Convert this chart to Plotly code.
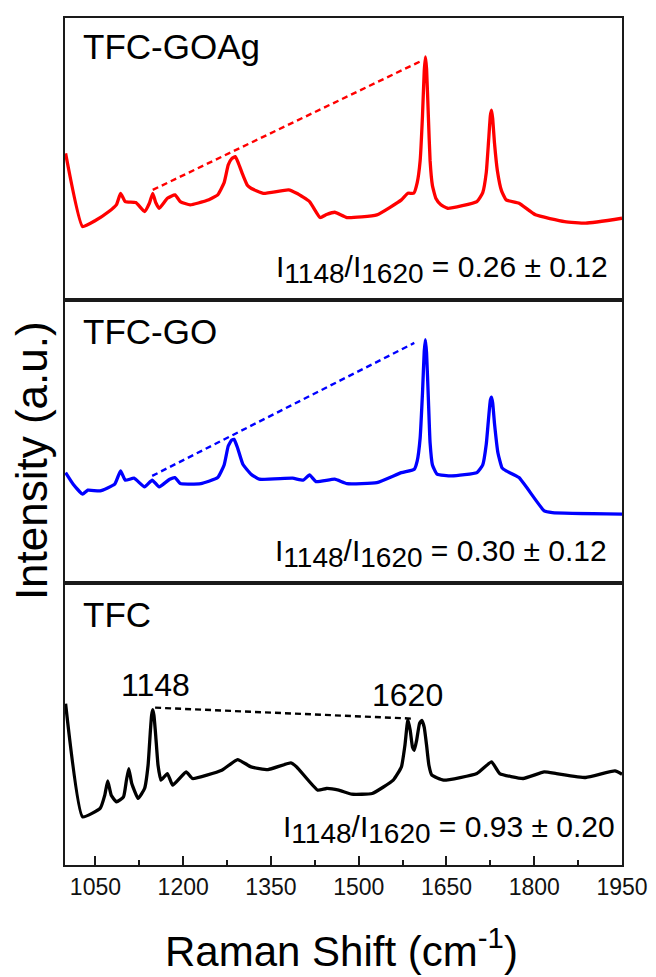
import plotly.graph_objects as go
from plotly.subplots import make_subplots

# ---------------- data ----------------
tick_vals = [1050, 1200, 1350, 1500, 1650, 1800, 1950]
tick_text = ["1050", "1200", "1350", "1500", "1650", "1800", "1950"]

goag_x = [999, 1028, 1050, 1073, 1086, 1093, 1101, 1119, 1134, 1142, 1148, 1153, 1159, 1173,
          1186, 1195, 1212, 1240, 1259, 1270, 1277, 1283, 1289, 1294, 1302, 1310, 1316, 1337,
          1380, 1394, 1416, 1434, 1445, 1459, 1480, 1531, 1573, 1584, 1594, 1600, 1605, 1609,
          1612, 1614, 1616, 1619, 1622, 1626, 1632, 1640, 1652, 1702, 1712, 1718, 1722, 1725,
          1727, 1729, 1732, 1737, 1744, 1752, 1774, 1802, 1852, 1888, 1950]
goag_y = [147.3, 74, 80, 89, 96, 107.3, 99, 98, 89, 97, 107.3, 98, 92.3, 102.3,
          105.7, 99, 95.7, 100, 105.7, 118, 135.7, 142, 144, 138, 125.7, 115, 112.3, 107.3,
          110.7, 107.3, 99, 83, 86, 88.3, 83, 85.7, 100.7, 107.3, 107.3, 118, 140, 185,
          230, 244, 232, 185, 140, 115, 102, 96, 92.3, 99, 108, 128, 160, 185,
          190.7, 182, 158, 130, 110, 100.7, 97.3, 85.7, 79, 77.3, 82.3]

go_x = [999, 1012, 1028, 1037, 1058, 1083, 1093, 1101, 1116, 1134, 1147, 1159, 1177,
        1186, 1195, 1230, 1259, 1270, 1277, 1283, 1287, 1293, 1302, 1316, 1330, 1387, 1405,
        1416, 1427, 1459, 1480, 1531, 1573, 1595, 1600, 1605, 1609, 1612, 1614, 1616, 1619,
        1622, 1626, 1634, 1659, 1702, 1712, 1718, 1722, 1725, 1727, 1729, 1732, 1738, 1745,
        1752, 1774, 1817, 1831, 1950]
go_y = [110.3, 98.7, 88.7, 92.7, 92, 98.7, 112, 102.7, 104.7, 96, 102.7, 96, 103.7,
        105.3, 99.3, 99.3, 105.3, 118, 137, 143, 143.7, 135, 118.7, 108.7, 103.7, 104.7, 102.7,
        108, 101.3, 103.7, 99.3, 100.3, 110.3, 113.7, 122, 145, 190, 232, 243.7, 230, 185,
        140, 118, 108.7, 107, 110.3, 118, 138.7, 165, 183, 186, 180, 160, 130, 115,
        112, 105.3, 72, 70.3, 68.7]

tfc_x = [999, 1028, 1058, 1066, 1071, 1077, 1086, 1098, 1103, 1107, 1112, 1123, 1134,
         1140, 1144, 1146, 1148, 1150, 1153, 1157, 1162, 1173, 1182, 1205, 1216, 1266,
         1293, 1316, 1345, 1384, 1394, 1430, 1445, 1466, 1488, 1523, 1559, 1573, 1579,
         1584, 1588, 1592, 1595, 1599, 1604, 1608, 1612, 1616, 1620, 1625, 1645, 1702,
         1727, 1741, 1781, 1817, 1838, 1888, 1938, 1950]
tfc_y = [161.7, 48.3, 56.7, 70, 84.3, 70, 63.3, 68.3, 85, 96.7, 82, 66.7, 76.7,
         100, 135, 150, 155.7, 150, 130, 100, 85, 91.7, 80, 93.3, 86.7, 95,
         105.7, 98.3, 95.7, 102.3, 98.3, 75, 76.7, 75, 71, 71.7, 85, 98.3, 120,
         145.7, 135, 118, 115, 125, 142, 145, 138, 120, 100, 90, 85, 91.7,
         103.3, 91.7, 86.7, 93.3, 91.7, 87.7, 94.3, 91]

# dashed guide lines (peak 1148 -> peak 1620)
goag_guide_x = [1148, 1606]
goag_guide_y = [110.7, 239.7]
go_guide_x = [1147, 1595]
go_guide_y = [107, 240.3]
tfc_guide_x = [1152, 1592]
tfc_guide_y = [157.7, 146.7]

panel_names = ["TFC-GOAg", "TFC-GO", "TFC"]
ratio_texts = ["0.26 ± 0.12", "0.30 ± 0.12", "0.93 ± 0.20"]
colors = ["#ff0000", "#0000ff", "#000000"]
peak_labels = ["1148", "1620"]
peak_label_x = [1152, 1584]
peak_label_y = [180, 170]

# ---------------- figure ----------------
FONT = "Liberation Sans, Arial, sans-serif"
fig = make_subplots(rows=3, cols=1, shared_xaxes=True, vertical_spacing=0)

series = [(goag_x, goag_y, goag_guide_x, goag_guide_y),
          (go_x, go_y, go_guide_x, go_guide_y),
          (tfc_x, tfc_y, tfc_guide_x, tfc_guide_y)]

for i, (sx, sy, gx, gy) in enumerate(series):
    row = i + 1
    fig.add_trace(go.Scatter(x=sx, y=sy, mode="lines",
                             line=dict(color=colors[i], width=3.3, shape="spline",
                                       smoothing=0.4),
                             showlegend=False, hoverinfo="skip"), row=row, col=1)
    fig.add_trace(go.Scatter(x=gx, y=gy, mode="lines",
                             line=dict(color=colors[i], width=2.4, dash="6px,4px"),
                             showlegend=False, hoverinfo="skip"), row=row, col=1)

axis_common = dict(showline=True, linecolor="#1a1a1a", linewidth=2, mirror=True,
                   showgrid=False, zeroline=False)

for row in (1, 2, 3):
    fig.update_yaxes(range=[0, 283], showticklabels=False, ticks="", **axis_common,
                     row=row, col=1)
    if row < 3:
        fig.update_xaxes(range=[998, 1950], showticklabels=False, ticks="",
                         **axis_common, row=row, col=1)

fig.update_xaxes(range=[998, 1950], tickvals=tick_vals, ticktext=tick_text,
                 ticks="inside", ticklen=9, tickwidth=1.5, tickcolor="#1a1a1a",
                 tickfont=dict(family=FONT, size=23, color="#111"),
                 minor=dict(ticks="inside", ticklen=5, tickwidth=1.5, tickcolor="#1a1a1a",
                            dtick=75, tick0=1050),
                 **axis_common, row=3, col=1)

yrefs = ["y domain", "y2 domain", "y3 domain"]
label_y = [0.899, 0.89, 0.887]
ratio_y = [0.11, 0.102, 0.124]
ratio_x = [0.978, 0.977, 0.991]
for i in range(3):
    fig.add_annotation(text=panel_names[i], xref="paper", yref=yrefs[i],
                       x=0.028, y=label_y[i], xanchor="left", yanchor="middle",
                       showarrow=False, font=dict(family=FONT, size=35, color="#000"))
    big = '<span style="font-size:28px">'
    txt = ("I<sub>" + big + "1148</span></sub>/I<sub>" + big + "1620</span></sub> = "
           + ratio_texts[i])
    fig.add_annotation(text=txt, xref="paper", yref=yrefs[i],
                       x=ratio_x[i], y=ratio_y[i], xanchor="right", yanchor="middle",
                       showarrow=False, font=dict(family=FONT, size=30, color="#000"))

for lab, lx, ly in zip(peak_labels, peak_label_x, peak_label_y):
    fig.add_annotation(text=lab, x=lx, y=ly, xref="x3", yref="y3",
                       xanchor="center", yanchor="middle", showarrow=False,
                       font=dict(family=FONT, size=32, color="#000"))

fig.add_annotation(text="Intensity (a.u.)", xref="paper", yref="paper",
                   x=-0.059, y=0.477, xanchor="center", yanchor="middle",
                   textangle=-90, showarrow=False,
                   font=dict(family=FONT, size=44, color="#000"))
fig.add_annotation(text="Raman Shift (cm<sup>-1</sup>)", xref="paper", yref="paper",
                   x=0.497, y=-0.098, xanchor="center", yanchor="middle",
                   showarrow=False, font=dict(family=FONT, size=42, color="#000"))

# the page body adds an 8px offset, so the figure is 8px smaller than the window
fig.update_layout(width=648, height=969,
                  margin=dict(l=57, r=34, t=8, b=112),
                  paper_bgcolor="white", plot_bgcolor="white",
                  showlegend=False)

fig.write_html("out.html")
